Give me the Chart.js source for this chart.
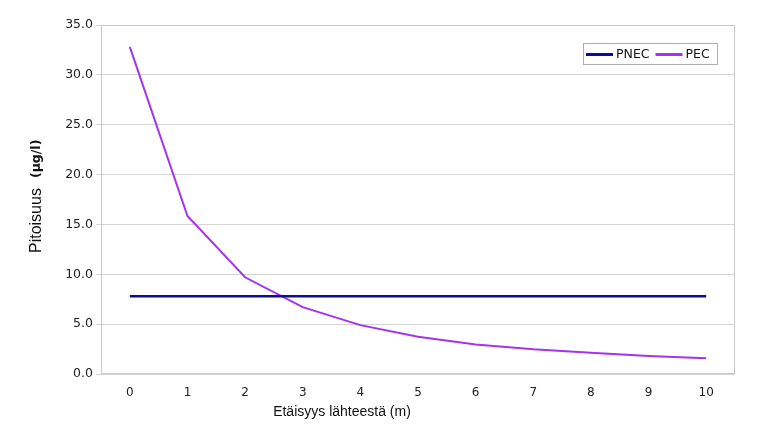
<!DOCTYPE html>
<html>
<head>
<meta charset="utf-8">
<script src="https://cdn.jsdelivr.net/npm/chart.js@4.4.0/dist/chart.umd.min.js"></script>
<style>
  html, body { margin: 0; padding: 0; background: #fff; }
  #wrap { width: 771px; height: 435px; }
</style>
</head>
<body>
<div id="wrap"><canvas id="chart" width="771" height="435"></canvas></div>
<script>
// data
var distances = ['0', '1', '2', '3', '4', '5', '6', '7', '8', '9', '10'];
var pnecValues = [7.8, 7.8, 7.8, 7.8, 7.8, 7.8, 7.8, 7.8, 7.8, 7.8, 7.8];
var pecValues = [32.8, 15.85, 9.7, 6.7, 4.9, 3.74, 2.97, 2.47, 2.14, 1.8, 1.57];
var yTicks = [0, 5, 10, 15, 20, 25, 30, 35];
var xTitle = 'Etäisyys lähteestä (m)';
var yTitle = 'Pitoisuus';
var yUnit = '(µg/l)';

//legend box inside the plot, plot border, axis titles
var boxLegend = {
    id: 'boxLegend',
    afterDraw: function (chart) {
        var ctx = chart.ctx;
        var area = chart.chartArea;
        ctx.save();
        ctx.strokeStyle = '#c8c8c8';
        ctx.lineWidth = 1;
        ctx.strokeRect(area.left + 0.5, area.top + 0.5, area.right - area.left - 1, area.bottom - area.top - 1);

        //axis titles
        ctx.fillStyle = '#111';
        ctx.font = '14px "Liberation Sans", Arial, sans-serif';
        ctx.textAlign = 'center';
        ctx.textBaseline = 'middle';
        ctx.fillText(xTitle, 342, 412);

        ctx.save();
        ctx.translate(37, 253);
        ctx.rotate(-Math.PI / 2);
        ctx.textAlign = 'left';
        ctx.font = '16px "Liberation Sans", Arial, sans-serif';
        ctx.fillText(yTitle, 0, 0);
        var tw = ctx.measureText(yTitle).width;
        ctx.font = 'bold 12.5px "DejaVu Sans", Verdana, sans-serif';
        ctx.fillText(yUnit, tw + 10, 0);
        ctx.restore();

        var x = 583, y = 43, w = 134, h = 21;
        ctx.fillStyle = '#fff';
        ctx.fillRect(x, y, w, h);
        ctx.strokeStyle = '#b0b0b0';
        ctx.lineWidth = 1;
        ctx.strokeRect(x + 0.5, y + 0.5, w, h);
        ctx.font = '12.5px "DejaVu Sans", Verdana, sans-serif';
        ctx.textAlign = 'left';
        var cx = x + 3;
        chart.data.datasets.forEach(function (ds) {
            ctx.strokeStyle = ds.borderColor;
            ctx.lineWidth = 3;
            ctx.beginPath();
            ctx.moveTo(cx, y + h / 2 + 1);
            ctx.lineTo(cx + 27, y + h / 2 + 1);
            ctx.stroke();
            ctx.fillStyle = '#111';
            ctx.fillText(ds.label, cx + 30, y + h / 2 + 1);
            cx += 30 + ctx.measureText(ds.label).width + 6;
        });
        ctx.restore();
    }
};

new Chart(document.getElementById('chart'), {
    type: 'line',
    data: {
        labels: distances,
        datasets: [
            {
                label: 'PNEC',
                data: pnecValues,
                borderColor: '#0c0c9c',
                borderWidth: 2.5,
                pointRadius: 0,
                tension: 0
            },
            {
                label: 'PEC',
                data: pecValues,
                borderColor: '#a433ee',
                borderWidth: 2,
                pointRadius: 0,
                tension: 0
            }
        ]
    },
    options: {
        responsive: false,
        animation: false,
        layout: { padding: { top: 25, right: 36, left: 0, bottom: 0 } },
        plugins: {
            legend: { display: false },
            tooltip: { enabled: false }
        },
        scales: {
            x: {
                offset: true,
                grid: { display: false },
                border: { display: false },
                ticks: {
                    color: '#222',
                    font: { family: '"DejaVu Sans", Verdana, sans-serif', size: 12 },
                    padding: 4,
                    maxRotation: 0
                },
                afterFit: function (s) { s.height = 61; }
            },
            y: {
                min: 0,
                max: 35,
                afterBuildTicks: function (s) {
                    s.ticks = yTicks.map(function (v) { return { value: v }; });
                },
                grid: { color: '#d4d4d4', lineWidth: 1, tickLength: 5 },
                border: { display: false },
                ticks: {
                    color: '#222',
                    font: { family: '"DejaVu Sans", Verdana, sans-serif', size: 12.5 },
                    padding: 3,
                    callback: function (v) { return Number(v).toFixed(1); }
                },
                afterFit: function (s) { s.width = 101; }
            }
        }
    },
    plugins: [boxLegend]
});
</script>
</body>
</html>
